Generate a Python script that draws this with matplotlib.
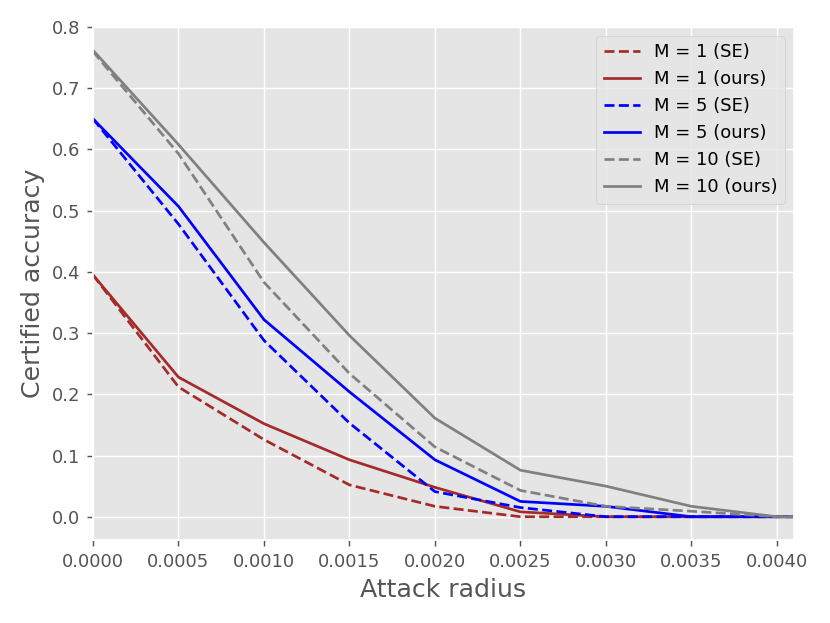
import numpy as np
import matplotlib.pyplot as plt

plt.style.use('ggplot')

# attack radii
radius = [0.0, 0.0005, 0.0010, 0.0015, 0.0020, 0.0025, 0.0030, 0.0035, 0.0040, 0.0045]

# certified accuracy
m1_se = [0.395, 0.212, 0.126, 0.052, 0.017, 0.0, 0.0, 0.0, 0.0, 0.0]
m1_ours = [0.395, 0.228, 0.152, 0.093, 0.048, 0.008, 0.0, 0.0, 0.0, 0.0]
m5_se = [0.650, 0.478, 0.288, 0.153, 0.041, 0.015, 0.0, 0.0, 0.0, 0.0]
m5_ours = [0.650, 0.507, 0.322, 0.204, 0.093, 0.025, 0.017, 0.0, 0.0, 0.0]
m10_se = [0.760, 0.593, 0.383, 0.234, 0.114, 0.043, 0.017, 0.009, 0.0, 0.0]
m10_ours = [0.762, 0.608, 0.448, 0.296, 0.161, 0.076, 0.050, 0.017, 0.0, 0.0]

fig = plt.figure(figsize=(830 / 130, 623 / 130), dpi=130)
ax = fig.add_axes([93 / 830, 1 - 540 / 623, (794 - 93) / 830, (540 - 27) / 623])

ax.plot(radius, m1_se, '--', color='brown', label='M = 1 (SE)')
ax.plot(radius, m1_ours, '-', color='brown', label='M = 1 (ours)')
ax.plot(radius, m5_se, '--', color='blue', label='M = 5 (SE)')
ax.plot(radius, m5_ours, '-', color='blue', label='M = 5 (ours)')
ax.plot(radius, m10_se, '--', color='grey', label='M = 10 (SE)')
ax.plot(radius, m10_ours, '-', color='grey', label='M = 10 (ours)')

ax.set_xlim(0, 0.0041)
ax.set_ylim(-0.038, 0.8)
ax.set_xticks(np.arange(0, 0.00401, 0.0005))
ax.set_xticklabels(['%.4f' % t for t in np.arange(0, 0.00401, 0.0005)])
ax.set_xlabel('Attack radius', fontsize=14)
ax.set_ylabel('Certified accuracy', fontsize=14)
ax.legend(loc='upper right')

fig.savefig('out.png', dpi=130)
